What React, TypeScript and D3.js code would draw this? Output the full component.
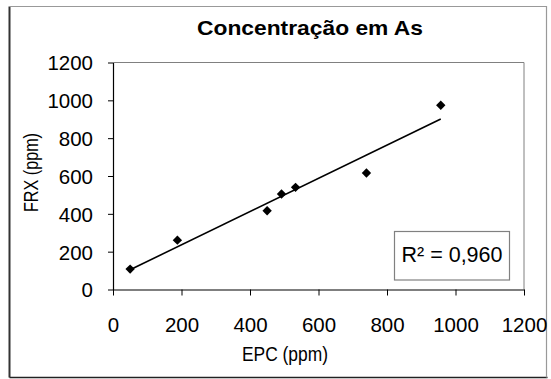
import * as d3 from 'd3';
import { useEffect, useRef } from 'react';

// values
const epc = [50, 188, 450, 492, 533, 740, 957];
const frx = [108, 261, 416, 505, 540, 616, 974];
const tickValues = [0, 200, 400, 600, 800, 1000, 1200];
const title = 'Concentração em As';
const xLabel = 'EPC (ppm)';
const yLabel = 'FRX (ppm)';
const r2Label = 'R² = 0,960';

const App = () => {
  const ref = useRef<SVGSVGElement>(null);

  useEffect(() => {
    const width = 551;
    const height = 379;
    const plot = { left: 113, right: 524, top: 62.5, bottom: 289.5 };
    const font = '"Liberation Sans", Arial, sans-serif';

    const svg = d3.select(ref.current);
    svg.selectAll('*').remove();
    svg.attr('width', width).attr('height', height);

    svg.append('rect').attr('width', width).attr('height', height).attr('fill', '#fff');

    // outer frame
    svg.append('path')
      .attr('d', 'M9.5,377.5 V6.5')
      .attr('stroke', '#333').attr('stroke-width', 2).attr('fill', 'none');
    svg.append('path')
      .attr('d', 'M9.5,377.5 H547.5')
      .attr('stroke', '#222').attr('stroke-width', 1.5).attr('fill', 'none');
    svg.append('path')
      .attr('d', 'M9.5,6.5 H546.5 V377.5')
      .attr('stroke', '#999').attr('stroke-width', 1.2).attr('fill', 'none');

    const x = d3.scaleLinear().domain([0, 1200]).range([plot.left, plot.right]);
    const y = d3.scaleLinear().domain([0, 1200]).range([plot.bottom, plot.top]);

    // plot area border (gray, Excel style)
    svg.append('path')
      .attr('d', `M${plot.left},${plot.top} H${plot.right} V${plot.bottom}`)
      .attr('stroke', '#808080').attr('stroke-width', 1).attr('fill', 'none');

    // axes
    const fmt = d3.format('d');
    const xAxis = svg.append('g')
      .attr('transform', `translate(0,${plot.bottom})`)
      .call(d3.axisBottom(x).tickValues(tickValues).tickFormat(fmt).tickSize(6).tickPadding(22).tickSizeOuter(0));
    const yAxis = svg.append('g')
      .attr('transform', `translate(${plot.left},0)`)
      .call(d3.axisLeft(y).tickValues(tickValues).tickFormat(fmt).tickSize(5).tickPadding(15).tickSizeOuter(0));

    [xAxis, yAxis].forEach(ax => {
      ax.select('.domain').attr('stroke', '#000').attr('stroke-width', 1.2);
      ax.selectAll('line').attr('stroke', '#000').attr('stroke-width', 1);
      ax.selectAll('text')
        .attr('fill', '#000')
        .style('font-family', font)
        .style('font-size', '20.5px');
    });
    yAxis.selectAll('text').attr('dy', '0.36em');
    xAxis.selectAll('text').attr('dy', '0.71em');

    // trend line from least squares fit
    const mx = d3.mean(epc)!;
    const my = d3.mean(frx)!;
    const slope = d3.sum(epc, (v, i) => (v - mx) * (frx[i] - my)) / d3.sum(epc, v => (v - mx) ** 2);
    const intercept = my - slope * mx;
    const ext = d3.extent(epc) as [number, number];
    const line = d3.line<number>().x(d => x(d)).y(d => y(slope * d + intercept));
    svg.append('path')
      .datum(ext)
      .attr('d', line)
      .attr('stroke', '#000')
      .attr('stroke-width', 1.6)
      .attr('fill', 'none');

    // diamond markers
    const diamond = d3.symbol().type(d3.symbolSquare).size(44);
    svg.selectAll('path.pt')
      .data(epc)
      .enter()
      .append('path')
      .attr('class', 'pt')
      .attr('d', diamond)
      .attr('transform', (d, i) => `translate(${x(d)},${y(frx[i])}) rotate(45)`)
      .attr('fill', '#000');

    // R² box
    svg.append('rect')
      .attr('x', 394.5).attr('y', 231.5).attr('width', 115).attr('height', 48.5)
      .attr('fill', '#fff').attr('stroke', '#808080').attr('stroke-width', 1.2);
    svg.append('text')
      .attr('x', 401.5).attr('y', 262)
      .style('font-family', font).style('font-size', '21.5px')
      .attr('fill', '#000')
      .text(r2Label);

    // title
    svg.append('text')
      .attr('x', 310).attr('y', 35)
      .attr('text-anchor', 'middle')
      .attr('textLength', 226).attr('lengthAdjust', 'spacingAndGlyphs')
      .style('font-family', font).style('font-size', '20.5px').style('font-weight', 'bold')
      .attr('fill', '#000')
      .text(title);

    // axis labels
    svg.append('text')
      .attr('x', 285).attr('y', 361)
      .attr('text-anchor', 'middle')
      .attr('textLength', 86).attr('lengthAdjust', 'spacingAndGlyphs')
      .style('font-family', font).style('font-size', '20.5px')
      .attr('fill', '#000')
      .text(xLabel);
    svg.append('text')
      .attr('transform', 'translate(38,172.5) rotate(-90)')
      .attr('text-anchor', 'middle')
      .attr('textLength', 79).attr('lengthAdjust', 'spacingAndGlyphs')
      .style('font-family', font).style('font-size', '20.5px')
      .attr('fill', '#000')
      .text(yLabel);
  }, []);

  return (
    <svg ref={ref} style={{ position: 'absolute', left: 0, top: 0, display: 'block' }}></svg>
  );
};

export default App;
